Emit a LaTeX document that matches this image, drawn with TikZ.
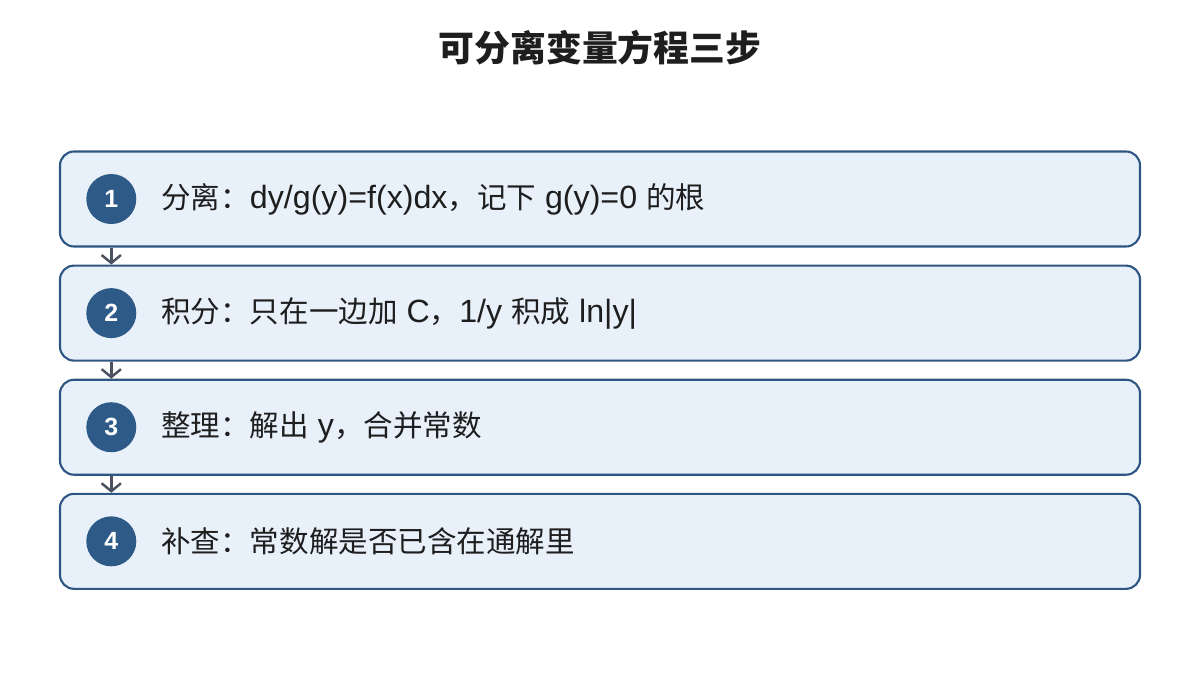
\documentclass[tikz,border=0pt]{standalone}
\usepackage{fontspec}
\setmainfont[Scale=1.09]{Liberation Sans}
\newfontfamily\zh{Noto Sans CJK SC}
\usetikzlibrary{positioning, arrows.meta}

\begin{document}
\begin{tikzpicture}[
    stepbox/.style={draw=boxcolor, line width=1.2pt, fill=boxfill, rounded corners=0.28cm, minimum width=21.6cm, minimum height=1.9cm, inner sep=0pt},
    numdot/.style={circle, fill=dotcolor, minimum size=1cm, inner sep=0pt, text=white, font=\fontsize{13}{16}\selectfont\bfseries},
    steptext/.style={anchor=west, font=\fontsize{16.8}{20}\selectfont, text=textcolor},
    flow/.style={-{Straight Barb[length=4.5pt, width=11pt]}, line width=1.4pt, draw=arrowcolor}
]

    % Define colors
    \definecolor{boxcolor}{RGB}{46, 86, 130}
    \definecolor{boxfill}{RGB}{232, 240, 250}
    \definecolor{dotcolor}{RGB}{46, 90, 136}
    \definecolor{textcolor}{RGB}{30, 30, 30}
    \definecolor{arrowcolor}{RGB}{74, 82, 96}

    \useasboundingbox (0,0) rectangle (24,-13.5);

    % Title
    \node[font=\fontsize{20.4}{24}\selectfont\zh\bfseries, text=textcolor] (title) at (12,-0.96) {可分离变量方程三步};

    % Steps
    \node[stepbox] (s1) at (12,-3.98) {};
    \node[stepbox, below=0.34cm of s1] (s2) {};
    \node[stepbox, below=0.34cm of s2] (s3) {};
    \node[stepbox, below=0.34cm of s3] (s4) {};

    \foreach \i/\txt in {1/{{\zh 分离：}dy/g(y)=f(x)dx{\zh ，记下} g(y)=0 {\zh 的根}},
                         2/{{\zh 积分：只在一边加} C{\zh ，}1/y {\zh 积成} ln|y|},
                         3/{{\zh 整理：解出} y{\zh ，合并常数}},
                         4/{{\zh 补查：常数解是否已含在通解里}}} {
        \node[numdot, right=0.54cm of s\i.west] (c\i) {\i};
        \node[steptext, right=0.36cm of c\i] (t\i) {\txt};
    }

    % Arrows between steps
    \foreach \i in {1,2,3} {
        \pgfmathtruncatemacro{\next}{\i+1}
        \draw[flow] (s\i.south -| c\i) -- (s\next.north -| c\i);
    }

\end{tikzpicture}
\end{document}
